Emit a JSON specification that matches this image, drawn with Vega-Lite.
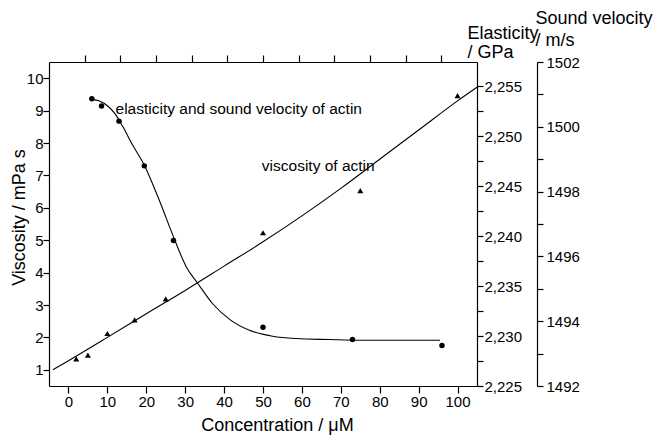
{
  "$schema": "https://vega.github.io/schema/vega-lite/v6.json",
  "width": 428,
  "height": 324,
  "autosize": {"type": "none"},
  "padding": {"left": 49, "top": 62, "right": 180, "bottom": 51},
  "background": "white",
  "config": {
    "view": {"stroke": null},
    "font": "Liberation Sans",
    "axis": {
      "grid": false,
      "domain": true,
      "ticks": true,
      "domainColor": "black",
      "tickColor": "black",
      "labelColor": "black",
      "titleColor": "black",
      "labelFont": "Liberation Sans",
      "titleFont": "Liberation Sans",
      "labelFontSize": 15,
      "titleFontSize": 18,
      "titleFontWeight": "normal",
      "domainWidth": 1.2,
      "tickWidth": 1.2,
      "labelOverlap": false,
      "labelFlush": false
    }
  },
  "datasets": {
    "viscosity": [
      {"conc": 2, "visc": 1.34},
      {"conc": 5, "visc": 1.45},
      {"conc": 10, "visc": 2.12},
      {"conc": 17, "visc": 2.54},
      {"conc": 25, "visc": 3.19},
      {"conc": 50, "visc": 5.23},
      {"conc": 75, "visc": 6.53},
      {"conc": 100, "visc": 9.46}
    ],
    "viscfit": [
      {"conc": -4, "visc": 1.0},
      {"conc": 0, "visc": 1.28},
      {"conc": 10, "visc": 2.0},
      {"conc": 20, "visc": 2.73},
      {"conc": 30, "visc": 3.45},
      {"conc": 40, "visc": 4.2},
      {"conc": 50, "visc": 4.95},
      {"conc": 60, "visc": 5.75},
      {"conc": 70, "visc": 6.6},
      {"conc": 80, "visc": 7.5},
      {"conc": 90, "visc": 8.4},
      {"conc": 100, "visc": 9.3},
      {"conc": 105, "visc": 9.72}
    ],
    "elasticity": [
      {"conc": 6, "elasticity": 2.25376, "velocity": 1500.86},
      {"conc": 8.5, "elasticity": 2.25303, "velocity": 1500.63},
      {"conc": 13, "elasticity": 2.25152, "velocity": 1500.17},
      {"conc": 19.5, "elasticity": 2.24704, "velocity": 1498.79},
      {"conc": 27, "elasticity": 2.23957, "velocity": 1496.49},
      {"conc": 50, "elasticity": 2.23088, "velocity": 1493.81},
      {"conc": 73, "elasticity": 2.22965, "velocity": 1493.43},
      {"conc": 96, "elasticity": 2.22905, "velocity": 1493.25}
    ],
    "elasfit": [
      {"conc": 6, "elasticity": 2.2537},
      {"conc": 8, "elasticity": 2.25353},
      {"conc": 10, "elasticity": 2.25306},
      {"conc": 12, "elasticity": 2.25225},
      {"conc": 14, "elasticity": 2.25095},
      {"conc": 16.5, "elasticity": 2.24912},
      {"conc": 19.5, "elasticity": 2.24711},
      {"conc": 23.5, "elasticity": 2.24344},
      {"conc": 27, "elasticity": 2.23993},
      {"conc": 30.3, "elasticity": 2.23692},
      {"conc": 33.3, "elasticity": 2.23524},
      {"conc": 37, "elasticity": 2.23326},
      {"conc": 41.5, "elasticity": 2.23165},
      {"conc": 46.5, "elasticity": 2.23058},
      {"conc": 52.5, "elasticity": 2.22998},
      {"conc": 58.5, "elasticity": 2.22975},
      {"conc": 67, "elasticity": 2.22965},
      {"conc": 75, "elasticity": 2.22958},
      {"conc": 95.5, "elasticity": 2.22958}
    ],
    "labels": [
      {"conc": 12.1, "visc": 9.05, "text": "elasticity and sound velocity of actin"},
      {"conc": 49.7, "visc": 7.3, "text": "viscosity of actin"}
    ]
  },
  "resolve": {"scale": {"x": "independent", "y": "independent"}},
  "layer": [
    {
      "data": {"name": "viscosity"},
      "mark": {"type": "point", "shape": "triangle-up", "filled": true, "color": "black", "size": 36, "opacity": 1},
      "encoding": {
        "x": {
          "field": "conc", "type": "quantitative",
          "scale": {"domain": [-5, 105], "nice": false, "zero": false},
          "axis": {
            "orient": "bottom",
            "offset": 0,
            "values": [0, 10, 20, 30, 40, 50, 60, 70, 80, 90, 100],
            "tickSize": 7,
            "labelPadding": 1,
            "encode": {"ticks": {"update": {"y2": {"value": -7}}}},
            "title": "Concentration / μM",
            "titleX": 228,
            "titleY": 44,
            "titleBaseline": "alphabetic"
          }
        },
        "y": {
          "field": "visc", "type": "quantitative",
          "scale": {"domain": [0.5, 10.5], "nice": false, "zero": false},
          "axis": {
            "orient": "left",
            "offset": 0,
            "values": [1, 2, 3, 4, 5, 6, 7, 8, 9, 10],
            "tickSize": 6,
            "labelPadding": 0,
            "labelAlign": "right",
            "labelBaseline": "middle",
            "encode": {"ticks": {"update": {"x2": {"value": 6}}}},
            "title": "Viscosity / mPa s",
            "titleAngle": -90,
            "titleX": -25,
            "titleY": 155,
            "titleBaseline": "alphabetic"
          }
        }
      }
    },
    {
      "data": {"name": "viscfit"},
      "mark": {"type": "line", "color": "black", "strokeWidth": 1.1, "interpolate": "monotone"},
      "encoding": {
        "x": {"field": "conc", "type": "quantitative", "scale": {"domain": [-5, 105], "nice": false, "zero": false}, "axis": null},
        "y": {"field": "visc", "type": "quantitative", "scale": {"domain": [0.5, 10.5], "nice": false, "zero": false}, "axis": null}
      }
    },
    {
      "data": {"name": "labels"},
      "mark": {"type": "text", "align": "left", "baseline": "middle", "fontSize": 15.5, "font": "Liberation Sans", "color": "black"},
      "encoding": {
        "x": {"field": "conc", "type": "quantitative", "scale": {"domain": [-5, 105], "nice": false, "zero": false}, "axis": null},
        "y": {"field": "visc", "type": "quantitative", "scale": {"domain": [0.5, 10.5], "nice": false, "zero": false}, "axis": null},
        "text": {"field": "text"}
      }
    },
    {
      "data": {"name": "elasfit"},
      "mark": {"type": "line", "color": "black", "strokeWidth": 1.1, "interpolate": "monotone"},
      "encoding": {
        "x": {"field": "conc", "type": "quantitative", "scale": {"domain": [-5, 105], "nice": false, "zero": false}, "axis": null},
        "y": {
          "field": "elasticity", "type": "quantitative",
          "scale": {"domain": [2.225, 2.25744], "nice": false, "zero": false},
          "axis": {
            "orient": "right",
            "offset": 0,
            "values": [2.225, 2.2275, 2.23, 2.2325, 2.235, 2.2375, 2.24, 2.2425, 2.245, 2.2475, 2.25, 2.2525, 2.255],
            "labelExpr": "round(datum.value * 2000) % 10 == 0 ? replace(format(datum.value, '.3f'), '.', ',') : ''",
            "tickSize": 6,
            "labelPadding": 1,
            "labelAlign": "left",
            "encode": {"ticks": {"update": {"x2": {"signal": "round(datum.value * 2000) % 10 == 0 ? -6 : -3.5"}}}},
            "title": ["Elasticity", "/ GPa"],
            "titleAngle": 0,
            "titleAlign": "left",
            "titleBaseline": "alphabetic",
            "titleX": -10,
            "titleY": -24,
            "titleLineHeight": 19
          }
        }
      }
    },
    {
      "data": {"name": "elasticity"},
      "mark": {"type": "circle", "color": "black", "size": 30, "opacity": 1},
      "encoding": {
        "x": {"field": "conc", "type": "quantitative", "scale": {"domain": [-5, 105], "nice": false, "zero": false}, "axis": null},
        "y": {"field": "elasticity", "type": "quantitative", "scale": {"domain": [2.225, 2.25744], "nice": false, "zero": false}, "axis": null}
      }
    },
    {
      "data": {"name": "elasticity"},
      "mark": {"type": "circle", "color": "black", "size": 30, "opacity": 0},
      "encoding": {
        "x": {
          "field": "conc", "type": "quantitative",
          "scale": {"domain": [-5, 105], "nice": false, "zero": false},
          "axis": {
            "orient": "top",
            "offset": 0,
            "values": [4.1667, 13.3333, 22.5, 31.6667, 40.8333, 50, 59.1667, 68.3333, 77.5, 86.6667, 95.8333],
            "labels": false,
            "title": null,
            "tickSize": 7,
            "encode": {"ticks": {"update": {"y2": {"signal": "indexof([4.1667, 22.5, 40.8333, 59.1667, 77.5, 95.8333], datum.value) >= 0 ? 7 : 4"}}}}
          }
        },
        "y": {
          "field": "velocity", "type": "quantitative",
          "scale": {"domain": [1492, 1502], "nice": false, "zero": false},
          "axis": {
            "orient": "right",
            "offset": 60,
            "values": [1492, 1493, 1494, 1495, 1496, 1497, 1498, 1499, 1500, 1501, 1502],
            "labelExpr": "datum.value % 2 == 0 ? format(datum.value, 'd') : ''",
            "tickSize": 6,
            "labelPadding": 3,
            "labelAlign": "left",
            "encode": {"ticks": {"update": {"x2": {"signal": "datum.value % 2 == 0 ? -6 : -4"}}}},
            "title": ["Sound velocity", "/ m/s"],
            "titleAngle": 0,
            "titleAlign": "left",
            "titleBaseline": "alphabetic",
            "titleX": -2,
            "titleY": -38.5,
            "titleLineHeight": 22
          }
        }
      }
    }
  ]
}
